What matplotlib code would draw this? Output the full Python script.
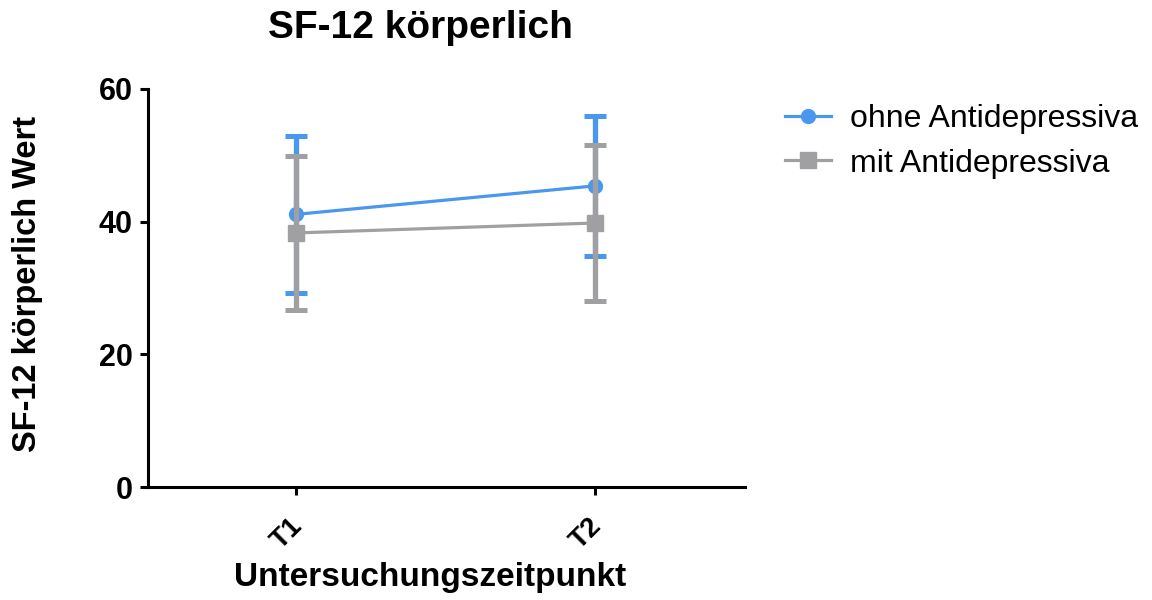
import matplotlib.pyplot as plt
import matplotlib.transforms as mtransforms
from matplotlib.lines import Line2D
import numpy as np

plt.rcParams['font.family'] = ['Liberation Sans', 'DejaVu Sans']

# Mittelwerte und Standardabweichungen je Zeitpunkt
zeitpunkte = ['T1', 'T2']
ohne_mean = [41.1, 45.4]
ohne_sd = [11.8, 10.6]
mit_mean = [38.3, 39.8]
mit_sd = [11.6, 11.7]

blue = '#4A98EE'
gray = '#A0A0A2'

fig = plt.figure(figsize=(11.52, 6.0), dpi=100)
ax = fig.add_axes([0.1285, 0.1883, 0.518, 0.6634])

x = np.arange(len(zeitpunkte))

ax.errorbar(x, ohne_mean, yerr=ohne_sd, color=blue, lw=2.3, marker='o', ms=10,
            elinewidth=3.8, capsize=8, capthick=3.6, zorder=3)
ax.errorbar(x, mit_mean, yerr=mit_sd, color=gray, lw=2.3, marker='s', ms=11,
            elinewidth=3.8, capsize=8, capthick=3.6, zorder=4)

ax.set_xlim(-0.495, 1.5)
ax.set_ylim(0, 60)
ax.set_yticks([0, 20, 40, 60])
ax.set_xticks(x)
ax.set_xticklabels(zeitpunkte, rotation=45, ha='right', rotation_mode='anchor')

for s in ['top', 'right']:
    ax.spines[s].set_visible(False)
for s in ['left', 'bottom']:
    ax.spines[s].set_linewidth(2.2)
ax.tick_params(width=2.2, length=6, labelsize=22, pad=5)
ax.tick_params(axis='x', labelsize=20, pad=13)
shift = mtransforms.ScaledTranslation(-7 / 100, 0, fig.dpi_scale_trans)
for lbl in ax.get_xticklabels():
    lbl.set_fontweight('bold')
    lbl.set_transform(lbl.get_transform() + shift)
for lbl in ax.get_yticklabels():
    lbl.set_fontweight('bold')

ax.set_ylabel('SF-12 körperlich Wert', fontsize=23.5, fontweight='bold')
ax.yaxis.set_label_coords(-0.176, 0.51)
ax.set_xlabel('Untersuchungszeitpunkt', fontsize=24, fontweight='bold')
ax.xaxis.set_label_coords(0.472, -0.188)

fig.text(420 / 1152, 1 - 28 / 600, 'SF-12 körperlich', fontsize=28, fontweight='bold',
         ha='center', va='center')

handles = [
    Line2D([], [], color=blue, lw=2.3, marker='o', ms=10),
    Line2D([], [], color=gray, lw=2.3, marker='s', ms=11),
]
ax.legend(handles, ['ohne Antidepressiva', 'mit Antidepressiva'],
          loc='upper left', bbox_to_anchor=(769 / 1152, 1 - 88 / 600),
          bbox_transform=fig.transFigure, frameon=False, fontsize=23,
          handlelength=1.45, handletextpad=0.6, labelspacing=0.46, borderpad=0)

fig.savefig('out.png', dpi=100)
